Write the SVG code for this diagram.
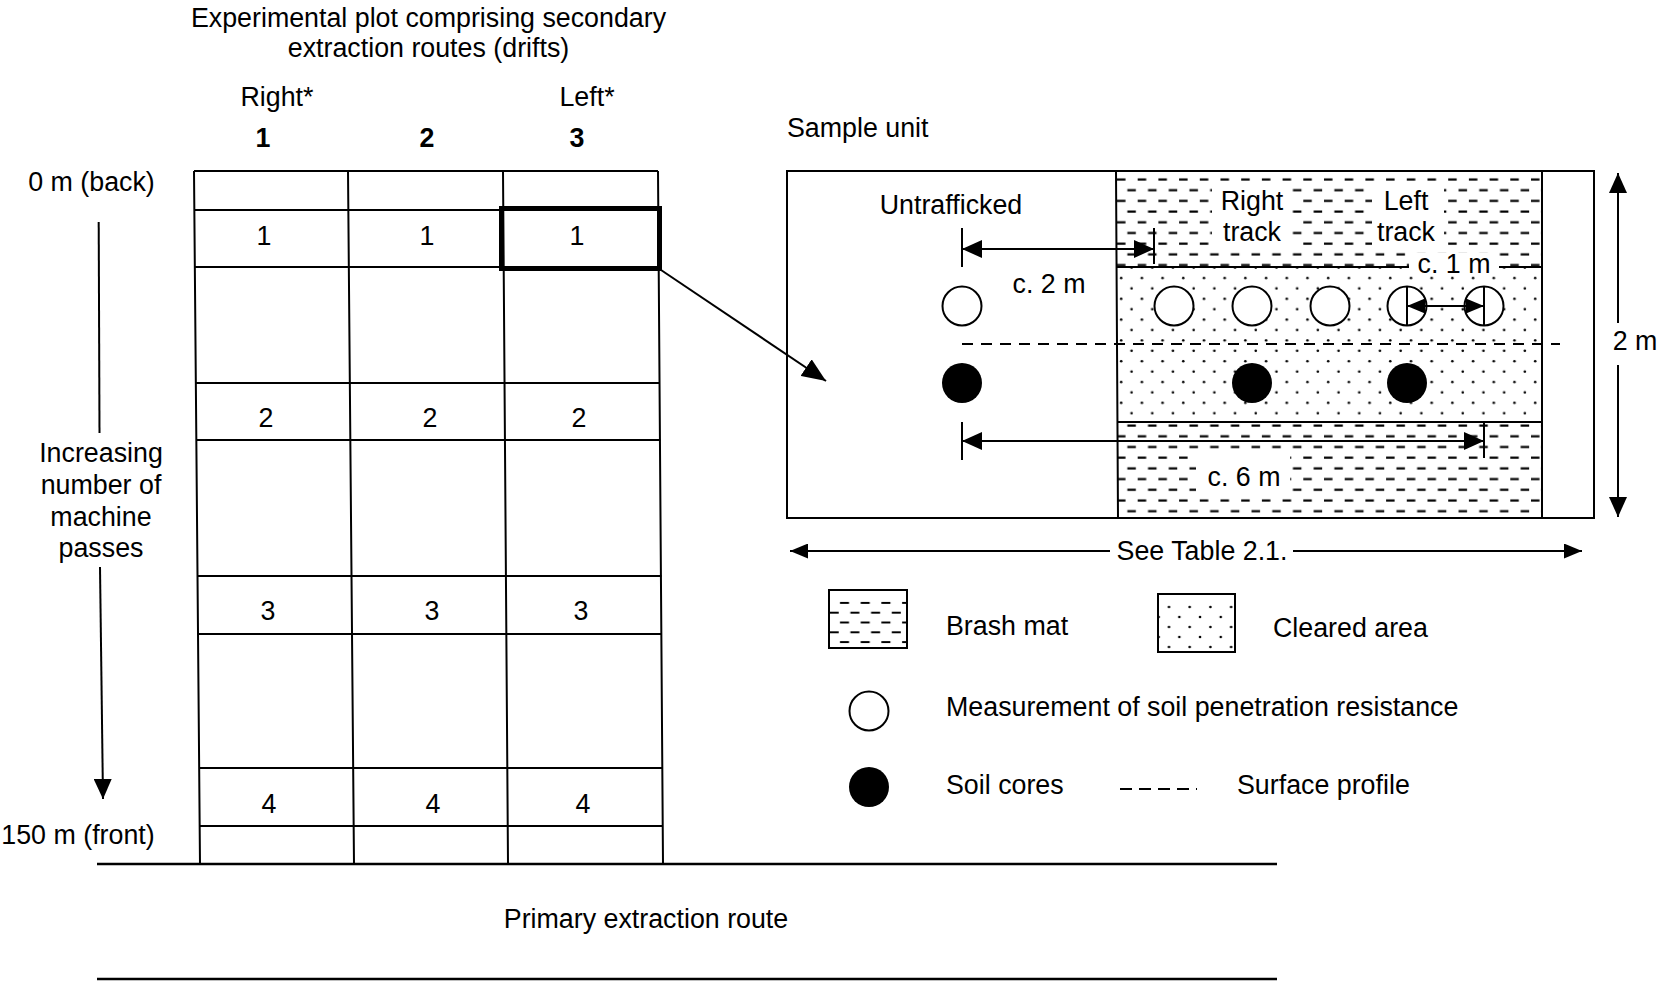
<svg xmlns="http://www.w3.org/2000/svg" width="1661" height="981" viewBox="0 0 1661 981">
<style>
.t{font-family:"Liberation Sans",Arial,Helvetica,sans-serif;font-size:26.8px;fill:#000}
.m{text-anchor:middle}
.b{font-weight:bold}
.ln{stroke:#000;stroke-width:2;fill:none}
.gl{stroke:#000;stroke-width:2;fill:none}
.oc{fill:#fff;stroke:#000;stroke-width:2}
.fc{fill:#000}
.wb{fill:#fff}
</style>
<defs>
<marker id="ah" markerUnits="userSpaceOnUse" markerWidth="20" markerHeight="18" refX="20" refY="9" orient="auto-start-reverse"><path d="M0,0L20,9L0,18z" fill="#000"/></marker>
<marker id="ahs" markerUnits="userSpaceOnUse" markerWidth="18" markerHeight="15" refX="18" refY="7.5" orient="auto-start-reverse"><path d="M0,0L18,7.5L0,15z" fill="#000"/></marker>
<marker id="ahl" markerUnits="userSpaceOnUse" markerWidth="24" markerHeight="20" refX="24" refY="10" orient="auto-start-reverse"><path d="M0,0L24,10L0,20z" fill="#000"/></marker>
<pattern id="brash" patternUnits="userSpaceOnUse" x="1116" y="175" width="20.7" height="21.4"><path d="M1,4.5H9.5M11.35,15.2H19.85" stroke="#000" stroke-width="2"/></pattern>
<pattern id="dots" patternUnits="userSpaceOnUse" x="1116" y="272.8" width="20.7" height="20.8"><circle cx="5.2" cy="5.2" r="1.3"/><circle cx="15.55" cy="15.6" r="1.3"/></pattern>
<pattern id="brashL" patternUnits="userSpaceOnUse" x="829" y="598" width="20.7" height="19.6"><path d="M11,5H20M0.7,14.8H9.7" stroke="#000" stroke-width="2"/></pattern>
<pattern id="dotsL" patternUnits="userSpaceOnUse" x="1158.65" y="602" width="20.7" height="20"><circle cx="10.35" cy="5" r="1.3"/><circle cx="0" cy="15" r="1.3"/><circle cx="20.7" cy="15" r="1.3"/></pattern>
</defs>
<rect width="1661" height="981" fill="#fff"/>

<g id="title">
<text class="t m" x="428.5" y="27">Experimental plot comprising secondary</text>
<text class="t m" x="428.5" y="57">extraction routes (drifts)</text>
</g>

<g id="headers">
<text class="t m" x="277" y="106">Right*</text>
<text class="t m" x="587" y="106">Left*</text>
<text class="t m b" x="263" y="147">1</text>
<text class="t m b" x="427" y="147">2</text>
<text class="t m b" x="577" y="147">3</text>
</g>

<g id="axis-labels">
<text class="t m" x="91.5" y="191">0 m (back)</text>
<text class="t m" x="101" y="462">Increasing</text>
<text class="t m" x="101" y="494">number of</text>
<text class="t m" x="101" y="526">machine</text>
<text class="t m" x="101" y="557">passes</text>
<text class="t m" x="78" y="844">150 m (front)</text>
</g>

<g id="plot-grid">
<path class="gl" d="M194,171L200,864M348,171L354,864M503,171L508,864M658,171L663,864"/>
<path class="gl" d="M194,171H658M194.3,210H658.3M194.8,267H658.8M195.8,383H659.8M196.3,440H660.3M197.5,576H661.5M198,634H662M199.2,768H663M199.7,826H663"/>
</g>

<g id="plot-numbers">
<text class="t m" x="264" y="245">1</text>
<text class="t m" x="427" y="245">1</text>
<text class="t m" x="577" y="245">1</text>
<text class="t m" x="266" y="427">2</text>
<text class="t m" x="430" y="427">2</text>
<text class="t m" x="579" y="427">2</text>
<text class="t m" x="268" y="620">3</text>
<text class="t m" x="432" y="620">3</text>
<text class="t m" x="581" y="620">3</text>
<text class="t m" x="269" y="813">4</text>
<text class="t m" x="433" y="813">4</text>
<text class="t m" x="583" y="813">4</text>
</g>

<g id="highlight">
<rect x="501.5" y="208.5" width="158" height="60" fill="none" stroke="#000" stroke-width="5"/>
</g>

<g id="primary-route">
<path d="M97,864H1277M97,979H1277" stroke="#000" stroke-width="2.5" fill="none"/>
<text class="t m" x="646" y="928">Primary extraction route</text>
</g>

<g id="sample-unit">
<text class="t" x="787" y="137">Sample unit</text>
<rect x="787" y="171" width="807" height="347" fill="#fff" stroke="#000" stroke-width="2"/>
<rect x="1116" y="171" width="426" height="96" fill="url(#brash)"/>
<rect x="1116" y="267" width="426" height="155" fill="url(#dots)"/>
<rect x="1116" y="422" width="426" height="96" fill="url(#brash)"/>
<path class="ln" d="M1116,171L1118,518M1542,171V518M1116,267H1542M1117,422H1542"/>
<path d="M962,344H1560" stroke="#000" stroke-width="2" stroke-dasharray="11 8"/>
<rect class="wb" x="1212" y="183" width="80" height="63"/>
<rect class="wb" x="1372" y="183" width="72" height="63"/>
<rect class="wb" x="1409" y="253" width="90" height="23"/>
<rect class="wb" x="1196" y="456" width="94" height="36"/>
<text class="t m" x="951" y="214">Untrafficked</text>
<text class="t m" x="1252" y="210">Right</text>
<text class="t m" x="1252" y="241">track</text>
<text class="t m" x="1406" y="210">Left</text>
<text class="t m" x="1406" y="241">track</text>
<text class="t m" x="1049" y="293">c. 2 m</text>
<text class="t m" x="1454" y="273">c. 1 m</text>
<text class="t m" x="1244" y="486">c. 6 m</text>
<text class="t m" x="1635" y="350">2 m</text>
<circle class="oc" cx="962" cy="306" r="19.5"/>
<circle class="oc" cx="1174" cy="306" r="19.5"/>
<circle class="oc" cx="1252" cy="306" r="19.5"/>
<circle class="oc" cx="1330" cy="306" r="19.5"/>
<circle class="oc" cx="1407" cy="306" r="19.5"/>
<circle class="oc" cx="1484" cy="306" r="19.5"/>
<path class="ln" d="M1407,286.5V325.5M1484,286.5V325.5"/>
<circle class="fc" cx="962" cy="383" r="20"/>
<circle class="fc" cx="1252" cy="383" r="20"/>
<circle class="fc" cx="1407" cy="383" r="20"/>
</g>

<g id="dimensions">
<path class="ln" d="M962,228V267M1154,228V264M962,422V460M1484,423V458"/>
<path class="ln" d="M962,249H1154" marker-start="url(#ah)" marker-end="url(#ah)"/>
<path class="ln" d="M962,441H1484" marker-start="url(#ah)" marker-end="url(#ah)"/>
<path class="ln" d="M1407,306H1484" marker-start="url(#ahs)" marker-end="url(#ahs)"/>
<path class="ln" d="M1618,323V173" marker-end="url(#ah)"/>
<path class="ln" d="M1618,365V517" marker-end="url(#ah)"/>
<path class="ln" d="M1110,551H790" marker-end="url(#ahs)"/>
<path class="ln" d="M1293,551H1582" marker-end="url(#ahs)"/>
<text class="t m" x="1202" y="560">See Table 2.1.</text>
</g>

<g id="connectors">
<path class="ln" d="M661,270L826,381" marker-end="url(#ahl)"/>
<path class="ln" d="M98.7,222L99.5,433"/>
<path class="ln" d="M100,567L103,799" marker-end="url(#ah)"/>
</g>

<g id="legend">
<g id="legend-brash">
<rect x="829" y="595" width="78" height="53" fill="url(#brashL)"/>
<rect x="829" y="590" width="78" height="58" fill="none" stroke="#000" stroke-width="2"/>
<text class="t" x="946" y="635">Brash mat</text>
</g>
<g id="legend-cleared">
<rect x="1158" y="600" width="77" height="51" fill="url(#dotsL)"/>
<rect x="1158" y="594" width="77" height="58" fill="none" stroke="#000" stroke-width="2"/>
<text class="t" x="1273" y="637">Cleared area</text>
</g>
<g id="legend-open">
<circle class="oc" cx="869" cy="711" r="19.5"/>
<text class="t" x="946" y="716">Measurement of soil penetration resistance</text>
</g>
<g id="legend-filled">
<circle class="fc" cx="869" cy="787" r="20"/>
<text class="t" x="946" y="794">Soil cores</text>
</g>
<g id="legend-profile">
<path d="M1120,789H1197" stroke="#000" stroke-width="2" stroke-dasharray="12 7"/>
<text class="t" x="1237" y="794">Surface profile</text>
</g>
</g>
</svg>
